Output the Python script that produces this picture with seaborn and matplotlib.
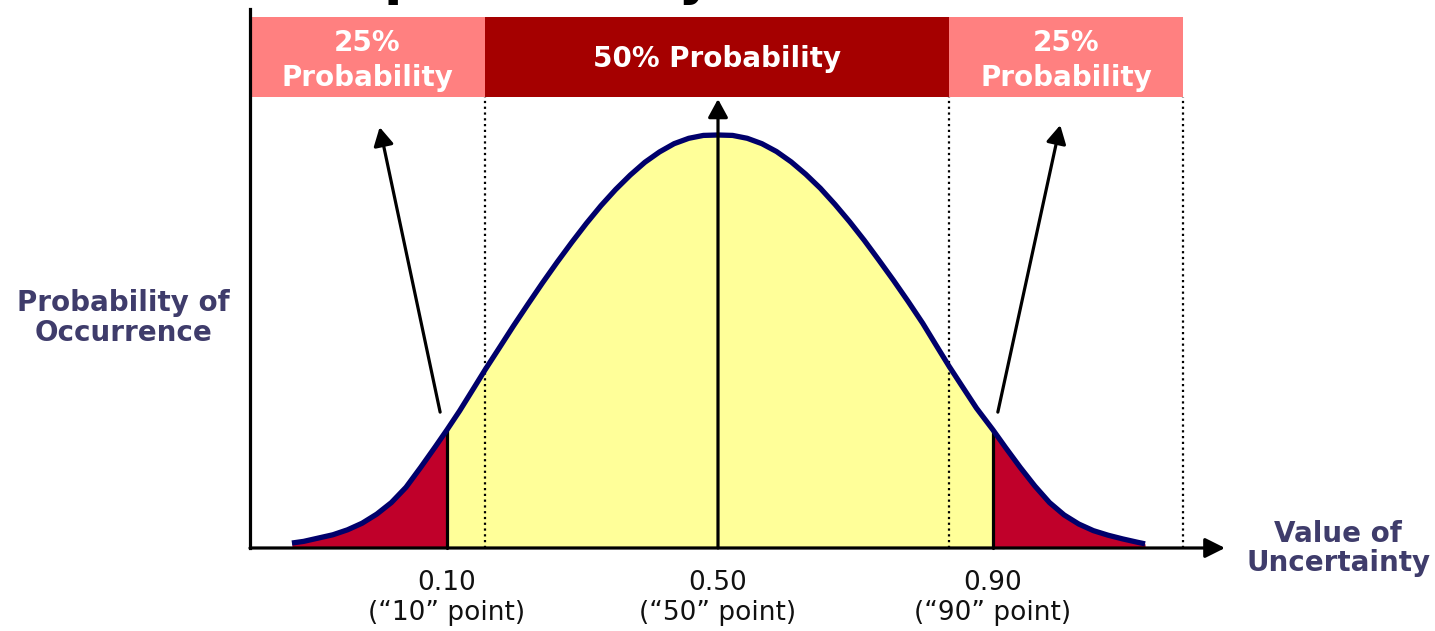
import numpy as np
import pandas as pd
import matplotlib
matplotlib.use("Agg")
import matplotlib.pyplot as plt
import seaborn as sns

# Density curve of the uncertain value (x in value units, y relative to the peak)
curve_x = [4.3, 5.5, 7.0, 8.5, 10.0, 11.5, 13.0, 14.5, 16.0, 17.5, 19.0, 20.2,
           21.5, 23.0, 24.1, 25.5, 27.0, 28.5, 30.0, 31.5, 33.0, 34.5, 36.0,
           37.5, 39.0, 40.5, 42.0, 43.5, 45.0, 46.5, 48.0,
           49.5, 51.0, 52.5, 54.0, 55.5, 57.0, 58.5, 60.0, 61.5, 63.0, 64.5,
           66.0, 67.5, 69.0, 70.5, 71.7, 73.0, 74.5, 76.2, 77.5, 79.0, 80.5,
           82.0, 83.5, 85.0, 86.5, 88.0, 89.5, 91.0, 91.8]
curve_y = [0.012, 0.016, 0.024, 0.032, 0.044, 0.060, 0.082, 0.110, 0.147, 0.195,
           0.245, 0.286, 0.332, 0.389, 0.431, 0.482, 0.537, 0.590, 0.642, 0.692,
           0.740, 0.786, 0.829, 0.868, 0.903, 0.934, 0.959, 0.979, 0.992, 0.999,
           1.000,
           0.999, 0.992, 0.979, 0.960, 0.935, 0.905, 0.871, 0.832, 0.790, 0.745,
           0.697, 0.648, 0.597, 0.544, 0.486, 0.440, 0.393, 0.339, 0.286, 0.243,
           0.195, 0.150, 0.110, 0.080, 0.058, 0.042, 0.031, 0.022, 0.014, 0.010]

# Percentile points marked on the value axis
pct_positions = [20.2, 48.0, 76.2]
pct_values = ["0.10", "0.50", "0.90"]
pct_names = ["(\u201c10\u201d point)", "(\u201c50\u201d point)", "(\u201c90\u201d point)"]

# Probability bands across the top
band_edges = [0.0, 24.1, 71.7, 95.7]
band_labels = ["25%\nProbability", "50% Probability", "25%\nProbability"]
band_colors = ["#FF8080", "#A50000", "#FF8080"]
band_bottom, band_top = 1.092, 1.286

y_label = "Probability of\nOccurrence"
x_label = "Value of\nUncertainty"
title_text = "probability"

sns.set_theme(style="white")
plt.rcParams["font.family"] = ["DejaVu Sans"]

fig = plt.figure(figsize=(14.35, 6.31), dpi=100)
ax = fig.add_axes([0, 0, 1, 1])
ax.set_xlim(-25.641, 121.538)
ax.set_ylim(-0.201, 1.3269)
ax.axis("off")

df = pd.DataFrame({"x": curve_x, "y": curve_y})
cx = np.array(curve_x)
cy = np.array(curve_y)
lo, mid, hi = pct_positions

# shaded regions under the curve
ax.fill_between(cx, 0, cy, where=cx <= lo, color="#C0002A", lw=0, zorder=1)
ax.fill_between(cx, 0, cy, where=cx >= hi, color="#C0002A", lw=0, zorder=1)
ax.fill_between(cx, 0, cy, where=(cx >= lo) & (cx <= hi), color="#FFFF99",
                lw=0, zorder=1)

# band boxes
for left, right, lab, col in zip(band_edges[:-1], band_edges[1:], band_labels, band_colors):
    ax.bar((left + right) / 2, band_top - band_bottom, width=right - left,
           bottom=band_bottom, color=col, lw=0, zorder=2)
    ty = 1.184 if "\n" not in lab else 1.180
    ax.text((left + right) / 2, ty, lab,
            ha="center", va="center", color="white", fontsize=20,
            fontweight="bold", linespacing=1.3, zorder=3)

# dotted band separators
for edge in band_edges[1:]:
    ax.plot([edge, edge], [0, band_bottom], color="black", lw=1.6,
            linestyle=(0, (1, 1.6)), zorder=2)

# vertical lines at the 10th and 90th points
for p in (lo, hi):
    h = cy[np.argmin(np.abs(cx - p))]
    ax.plot([p, p], [0, h], color="black", lw=2.3, zorder=3)

# the curve itself
sns.lineplot(data=df, x="x", y="y", ax=ax, color="#00006B", lw=3.8,
             sort=False, zorder=4, solid_capstyle="butt")
ax.set_xlabel("")
ax.set_ylabel("")

arrow = "-|>,head_length=0.55,head_width=0.3"
# central arrow from the median to the 50% band
ax.annotate("", xy=(mid, 1.087), xytext=(mid, 0),
            arrowprops=dict(arrowstyle=arrow, color="black", lw=2.3,
                            mutation_scale=20, shrinkA=0, shrinkB=0), zorder=5)
# side arrows from the tails to the 25% bands
ax.annotate("", xy=(13.3, 1.019), xytext=(19.5, 0.329),
            arrowprops=dict(arrowstyle=arrow, color="black", lw=2.3,
                            mutation_scale=20, shrinkA=0, shrinkB=0), zorder=5)
ax.annotate("", xy=(83.1, 1.024), xytext=(76.7, 0.329),
            arrowprops=dict(arrowstyle=arrow, color="black", lw=2.3,
                            mutation_scale=20, shrinkA=0, shrinkB=0), zorder=5)

# axes lines
ax.plot([0, 0], [0, 1.305], color="black", lw=2.3, zorder=5, solid_capstyle="projecting")
ax.annotate("", xy=(100, 0), xytext=(0, 0),
            arrowprops=dict(arrowstyle="-|>,head_length=0.6,head_width=0.3",
                            color="black", lw=2.3, mutation_scale=20,
                            shrinkA=0, shrinkB=0), zorder=5)

# percentile tick labels
for p, v, n in zip(pct_positions, pct_values, pct_names):
    ax.text(p, -0.084, v, ha="center", va="center", fontsize=19, color="#111111")
    ax.text(p, -0.157, n, ha="center", va="center", fontsize=19, color="#111111")

label_color = "#3F3C6B"
ax.text(-13.0, 0.557, y_label, ha="center", va="center", fontsize=20,
        fontweight="bold", color=label_color, linespacing=1.05)
ax.text(111.6, -0.002, x_label, ha="center", va="center", fontsize=20,
        fontweight="bold", color=label_color, linespacing=1.05)

# heading text sitting above the top edge
fig.text(383 / 1435, 1.0095, title_text, ha="left", va="baseline",
         fontsize=38.6, fontweight="bold", color="black")

fig.savefig("out.png", dpi=100)
